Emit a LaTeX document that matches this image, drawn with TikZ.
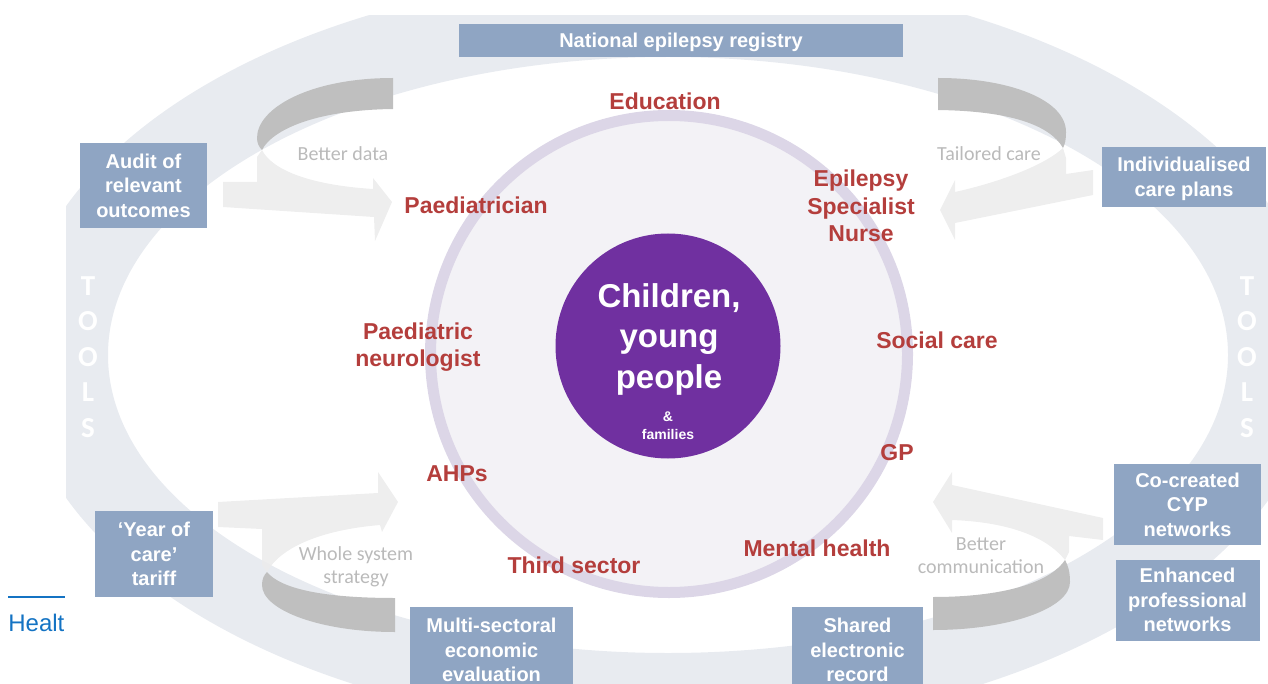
\documentclass[tikz,border=0pt]{standalone}
\usepackage{fontspec}
\setmainfont{Liberation Sans}
\newfontfamily\calibrifont{Carlito}
\usetikzlibrary{positioning}

\definecolor{ringgray}{RGB}{232,235,240}
\definecolor{lavring}{RGB}{220,214,231}
\definecolor{lavfill}{RGB}{243,242,246}
\definecolor{cyppurple}{RGB}{112,48,160}
\definecolor{carered}{RGB}{180,62,60}
\definecolor{boxblue}{RGB}{143,165,195}
\definecolor{arcdark}{RGB}{191,191,191}
\definecolor{arclight}{RGB}{236,236,236}
\definecolor{flowgray}{RGB}{186,186,186}
\definecolor{healthblue}{RGB}{20,115,195}

\begin{document}
\begin{tikzpicture}[
        x=0.5pt, y=-0.5pt, % one unit = one pixel, y pointing down
        every node/.style={inner sep=0pt},
        toolbox/.style={rectangle, fill=boxblue, text=white, align=center,
          font=\bfseries\fontsize{10}{12.25}\selectfont},
        carer/.style={text=carered, align=center, font=\bfseries\fontsize{11.5}{13.75}\selectfont},
        flowlabel/.style={text=flowgray, align=center, font=\calibrifont\fontsize{10}{11.5}\selectfont},
        toolsword/.style={text=white, align=center, font=\calibrifont\bfseries\fontsize{14.5}{17.75}\selectfont},
        backarc/.style={fill=arcdark},
        frontarc/.style={fill=arclight, fill opacity=0.9}
      ]
      \useasboundingbox (0,0) rectangle (1268,684);

      % slide behind the picture
      \draw[healthblue, line width=1pt] (8,597) -- (65,597);
      \node[anchor=west, text=healthblue, font=\fontsize{12}{14}\selectfont] (healt) at (8,623) {Healt};

      % outer ring
      \begin{scope}
        \clip (66,16) rectangle (1268,684);
        \fill[ringgray, even odd rule] (668,352) ellipse [x radius=326pt, y radius=189.5pt]
          (668,355) ellipse [x radius=280pt, y radius=149pt];
      \end{scope}

      % circle of services
      \draw[lavring, line width=5.5pt, fill=lavfill] (669,354) circle (119.25pt);

      % turning arrows, light front then dark back
      \fill[frontarc] (262,150) .. controls (272,170) and (310,185) .. (373,189) -- (373,178) -- (392,202)
        -- (375,241) -- (374,217) -- (223,207) -- (223,182) -- (257,182) -- (257,157) -- cycle;
      \fill[backarc] (393,78) .. controls (310,78) and (257,108) .. (257,138)
        .. controls (257,143) and (259,147) .. (262,150) .. controls (272,130) and (315,110) .. (393,109) -- cycle;

      \fill[frontarc] (1063,148) .. controls (1045,165) and (1000,182) .. (955,192) -- (955,180) -- (940,210)
        -- (955,240) -- (955,223) -- (1093,195) -- (1093,170) -- (1066,174) -- (1066,158) -- cycle;
      \fill[backarc] (938,78) .. controls (1010,78) and (1066,100) .. (1066,132)
        .. controls (1066,140) and (1065,144) .. (1063,148) .. controls (1050,125) and (1010,111) .. (938,110) -- cycle;

      \fill[frontarc] (267,572) .. controls (280,548) and (320,530) .. (380,525) -- (382,532) -- (398,502)
        -- (378,472) -- (378,493) -- (218,502) -- (218,527) -- (262,529) -- (262,565) -- cycle;
      \fill[backarc] (395,632) .. controls (320,632) and (262,610) .. (262,585)
        .. controls (262,579) and (264,575) .. (267,572) .. controls (280,588) and (320,598) .. (395,598) -- cycle;

      \fill[frontarc] (1065,560) .. controls (1045,535) and (1005,522) .. (952,520) -- (952,533) -- (933,502)
        -- (952,472) -- (952,485) -- (1103,518) -- (1103,540) -- (1069,536) -- (1069,552) -- cycle;
      \fill[backarc] (933,630) .. controls (1010,630) and (1070,608) .. (1070,582)
        .. controls (1070,572) and (1068,565) .. (1065,560) .. controls (1052,580) and (1010,597) .. (933,597) -- cycle;

      \node[flowlabel] (betterdata) at (343,154) {Better data};
      \node[flowlabel] (tailored) at (989,154) {Tailored care};
      \node[flowlabel] (wholesys) at (356,567) {Whole system\\strategy};
      \node[flowlabel] (bettercomm) at (981,556) {Better\\communication};

      \node[toolsword] (toolsleft) at (88,357) {T\\O\\O\\L\\S};
      \node[toolsword] (toolsright) at (1247,357) {T\\O\\O\\L\\S};

      % tools
      \node[toolbox, minimum width=222pt, minimum height=16.5pt, text depth=0pt] (registry) at (681,40.5) {National epilepsy registry};
      \node[toolbox, minimum width=63.5pt, minimum height=42.5pt] (audit) at (143.5,185.5) {Audit of\\relevant\\outcomes};
      \node[toolbox, minimum width=82pt, minimum height=30pt, text depth=0pt] (plans) at (1184,177) {Individualised\\care plans};
      \node[toolbox, minimum width=59pt, minimum height=43pt] (tariff) at (154,554) {‘Year of\\care’\\tariff};
      \node[toolbox, minimum width=81.5pt, minimum height=43pt] (econ) at (491.5,650) {Multi-sectoral\\economic\\evaluation};
      \node[toolbox, minimum width=65.5pt, minimum height=43pt] (record) at (857.5,650) {Shared\\electronic\\record};
      \node[toolbox, minimum width=73.5pt, minimum height=40.5pt] (cypnet) at (1187.5,504.5) {Co-created\\CYP\\networks};
      \node[toolbox, minimum width=72pt, minimum height=40.5pt, below=7pt of cypnet] (profnet) {Enhanced\\professional\\networks};

      % services
      \node[carer] (education) at (665,101) {Education};
      \node[carer] (paed) at (476,205) {Paediatrician};
      \node[carer] (esn) at (861,206) {Epilepsy\\Specialist\\Nurse};
      \node[carer] (neuro) at (418,347) {Paediatric\\neurologist};
      \node[carer] (social) at (937,340) {Social care};
      \node[carer] (ahp) at (457,474) {AHPs};
      \node[carer] (gp) at (897,453) {GP};
      \node[carer] (third) at (574,565) {Third sector};
      \node[carer] (mental) at (817,548) {Mental health};

      % children and young people
      \node[circle, fill=cyppurple, minimum size=112.5pt] (cypcircle) at (668,346) {};
      \node[text=white, align=center, font=\bfseries\fontsize{16.5}{20.25}\selectfont] (cyptitle) at (669,339) {Children,\\young\\people};
      \node[text=white, align=center, font=\bfseries\fontsize{7}{9}\selectfont] (families) at (668,426) {\&\\families};
\end{tikzpicture}
\end{document}
